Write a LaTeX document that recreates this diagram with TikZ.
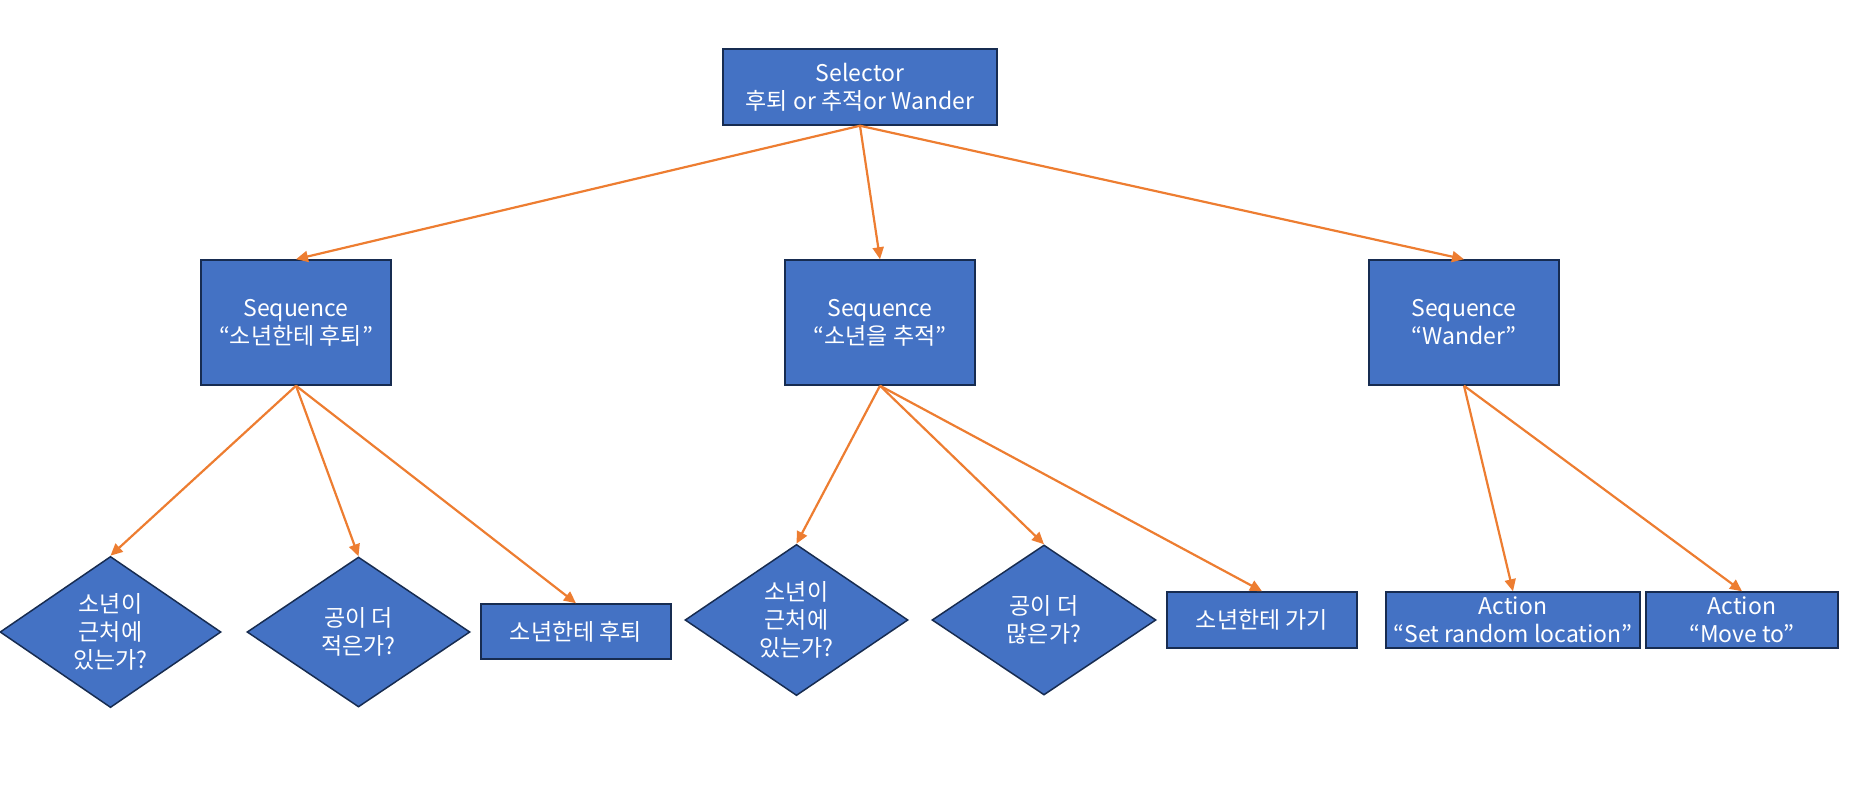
\documentclass[tikz,border=0pt]{standalone}
\usepackage{fontspec}
\setmainfont{Noto Sans CJK KR}
\usetikzlibrary{shapes.geometric,arrows.meta}
\definecolor{boxblue}{HTML}{4472C4}
\definecolor{boxline}{HTML}{172C51}
\definecolor{arrorange}{HTML}{ED7D31}
\begin{document}
\begin{tikzpicture}[x=1pt,y=-1pt,
  lbl/.style={font=\fontsize{23}{28}\selectfont, text=white, align=center},
  boxnode/.style={lbl, draw=boxline, fill=boxblue, line width=1.5pt, rectangle, inner sep=0pt},
  dnode/.style={lbl, draw=boxline, fill=boxblue, line width=1.5pt, diamond, inner sep=0pt},
  conn/.style={draw=arrorange, line width=2.2pt, -{Triangle[length=12pt,width=11pt]}}]
\useasboundingbox (0,0) rectangle (1849,795);
\node[boxnode, minimum width=274pt, minimum height=76pt] (sel) at (860,87) {Selector\\후퇴 or 추적or Wander};
\node[boxnode, minimum width=190pt, minimum height=125pt] (s1) at (296,322.5) {Sequence\\“소년한테 후퇴”};
\node[boxnode, minimum width=190pt, minimum height=125pt] (s2) at (880,322.5) {Sequence\\“소년을 추적”};
\node[boxnode, minimum width=190pt, minimum height=125pt] (s3) at (1464,322.5) {Sequence\\“Wander”};
\node[dnode, minimum width=221pt, minimum height=150pt] (d1) at (110.5,632) {소년이\\근처에\\있는가?};
\node[dnode, minimum width=223pt, minimum height=150pt] (d2) at (358.5,632) {공이 더\\적은가?};
\node[boxnode, minimum width=190pt, minimum height=55pt] (b1) at (576,631.5) {소년한테 후퇴};
\node[dnode, minimum width=223pt, minimum height=150pt] (d3) at (796.5,620) {소년이\\근처에\\있는가?};
\node[dnode, minimum width=224pt, minimum height=150pt] (d4) at (1044,620) {공이 더\\많은가?};
\node[boxnode, minimum width=190pt, minimum height=56pt] (b2) at (1262,620) {소년한테 가기};
\node[boxnode, minimum width=254pt, minimum height=56pt] (a1) at (1513,620) {Action\\“Set random location”};
\node[boxnode, minimum width=192pt, minimum height=56pt] (a2) at (1742,620) {Action\\“Move to”};
\draw[conn] (sel.south) -- (s1.north);
\draw[conn] (sel.south) -- (s2.north);
\draw[conn] (sel.south) -- (s3.north);
\draw[conn] (s1.south) -- (d1.north);
\draw[conn] (s1.south) -- (d2.north);
\draw[conn] (s1.south) -- (b1.north);
\draw[conn] (s2.south) -- (d3.north);
\draw[conn] (s2.south) -- (d4.north);
\draw[conn] (s2.south) -- (b2.north);
\draw[conn] (s3.south) -- (a1.north);
\draw[conn] (s3.south) -- (a2.north);
\end{tikzpicture}
\end{document}
